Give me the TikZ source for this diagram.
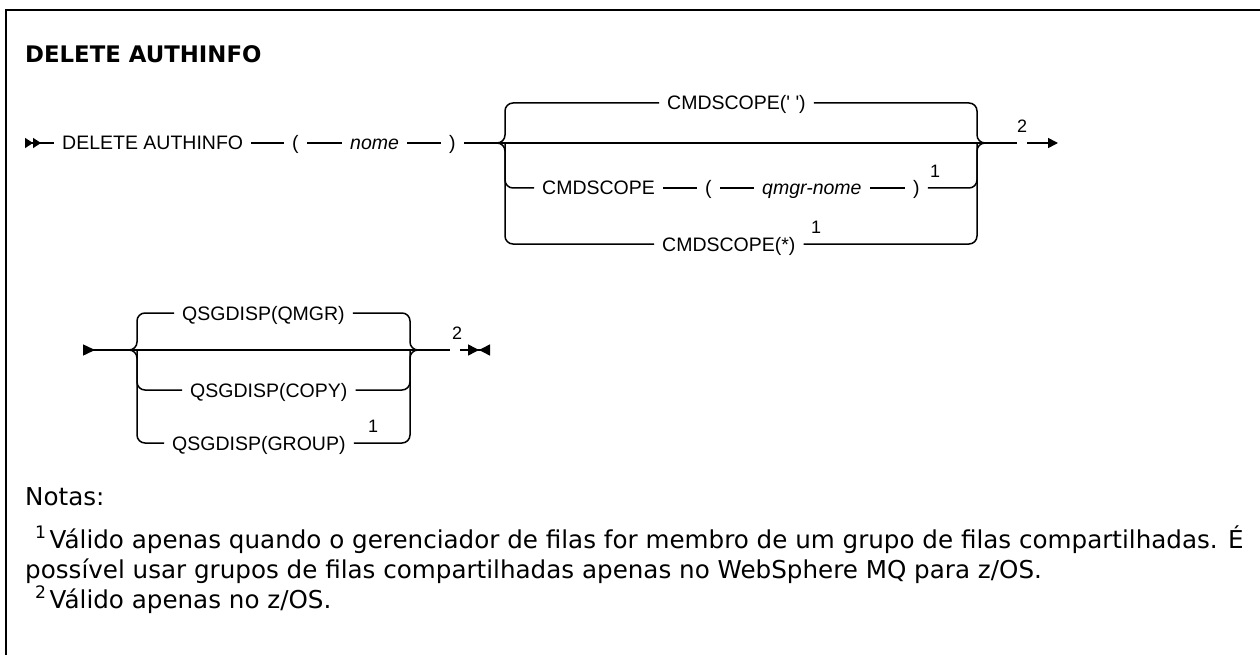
\documentclass[tikz,border=0pt]{standalone}
\usepackage{fontspec}
\setmainfont{Liberation Sans}
\newfontfamily\notefont{DejaVu Sans}
\usetikzlibrary{arrows.meta}
\newcommand{\syn}{\fontsize{19.5}{22}\selectfont}
\newcommand{\nt}{\notefont\fontsize{24.6}{30}\selectfont}
\tikzset{
  rail/.style ={draw=black, line width=1.5pt},
  brc/.style  ={rail, rounded corners=8pt},
  kw/.style   ={font=\syn, anchor=west, inner xsep=8pt, inner ysep=0pt, text height=14pt, text depth=0pt},
  var/.style  ={kw, font=\syn\itshape},
  fn/.style   ={font=\fontsize{18}{19}\selectfont, anchor=south west, inner sep=0pt},
  ttl/.style  ={font=\notefont\bfseries\fontsize{22.8}{26}\selectfont, anchor=base west, inner sep=0pt},
  note/.style ={font=\nt, anchor=base west, inner sep=0pt},
  frm/.style  ={draw=black, line width=2pt},
}

\begin{document}
\begin{tikzpicture}[x=1pt,y=-1pt]
    \useasboundingbox (0,0) rectangle (1260,655);
    \draw[frm] (6,656) -- (6,10) -- (1261,10);
    \node[ttl] (title) at (25,63) {DELETE AUTHINFO};

    % first line
    \coordinate (s1) at (25,143);
    \node[kw]  (del)  at (54,143)  {DELETE AUTHINFO};
    \node[kw]  (lp1)  at (284,143) {(};
    \node[var] (nome) at (342,143) {nome};
    \node[kw]  (rp1)  at (441,143) {)};
    \coordinate (bl1) at (505,143);
    \coordinate (br1) at (977,143);
    \node[kw]  (cs1)  at (659,103) {CMDSCOPE(\textquotesingle{} \textquotesingle)};
    \node[kw]  (cs2)  at (534,188) {CMDSCOPE};
    \node[kw]  (lp2)  at (697,188) {(};
    \node[var] (qm)   at (754,188) {qmgr-nome};
    \node[kw]  (rp2)  at (905,188) {)};
    \node[fn]  (f1a)  at (930,178) {1};
    \node[kw]  (cs3)  at (654,244) {CMDSCOPE(*)};
    \node[fn]  (f1b)  at (811,234) {1};
    \coordinate (e1) at (1017,143);
    \node[fn]  (f2a)  at (1017,133) {2};
    \coordinate (a1) at (1027,143);
    \coordinate (t1) at (1058,143);

    \draw[rail,{Triangle[reversed,length=8pt,width=10pt]Triangle[reversed,length=8pt,width=10pt]}-] (s1) -- (del);
    \draw[rail] (del) -- (lp1);
    \draw[rail] (lp1) -- (nome);
    \draw[rail] (nome) -- (rp1);
    \draw[rail] (rp1) -- (e1);
    \draw[rail,-{Triangle[length=10pt,width=10pt]}] (a1) -- (t1);
    \draw[brc] ([xshift=-8pt]bl1) -- (bl1) |- (cs1.west);
    \draw[brc] ([xshift=-8pt]bl1) -- (bl1) |- (cs3.west);
    \draw[brc] (bl1) |- (cs2.west);
    \draw[rail] (cs2) -- (lp2);
    \draw[rail] (lp2) -- (qm);
    \draw[rail] (qm) -- (rp2);
    \draw[brc] (cs1.east) -| (br1) -- ([xshift=8pt]br1);
    \draw[brc] (cs3.east) -| (br1) -- ([xshift=8pt]br1);
    \draw[brc] (rp2.east) -| (br1);

    % second line
    \coordinate (s2) at (83,350);
    \coordinate (bl2) at (137,350);
    \coordinate (br2) at (410,350);
    \node[kw] (qs1) at (174,313) {QSGDISP(QMGR)};
    \node[kw] (qs2) at (182,390) {QSGDISP(COPY)};
    \node[kw] (qs3) at (164,443) {QSGDISP(GROUP)};
    \node[fn] (f1c) at (368,433) {1};
    \coordinate (e2) at (450,350);
    \node[fn] (f2b) at (452,340) {2};
    \coordinate (a2) at (460,350);
    \coordinate (t2) at (490,350);

    \draw[rail,{Triangle[reversed,length=12pt,width=11pt]}-] (s2) -- (e2);
    \draw[brc] ([xshift=-8pt]bl2) -- (bl2) |- (qs1.west);
    \draw[brc] ([xshift=-8pt]bl2) -- (bl2) |- (qs3.west);
    \draw[brc] (bl2) |- (qs2.west);
    \draw[brc] (qs1.east) -| (br2) -- ([xshift=8pt]br2);
    \draw[brc] (qs3.east) -| (br2) -- ([xshift=8pt]br2);
    \draw[brc] (qs2.east) -| (br2);
    \draw[rail,-{Triangle[length=11pt,width=11pt,sep=0pt]Triangle[length=11pt,width=11pt,reversed]}] (a2) -- (t2);

    % notes
    \node[note] (nts) at (25,505) {Notas:};
    \node[note] (n1)  at (35,548) {\textsuperscript{1}\hspace{3pt}Válido apenas quando o gerenciador de filas for membro de um grupo de filas compartilhadas. É};
    \node[note] (n1b) at (25,578) {possível usar grupos de filas compartilhadas apenas no WebSphere MQ para z/OS.};
    \node[note] (n2)  at (35,608) {\textsuperscript{2}\hspace{3pt}Válido apenas no z/OS.};
\end{tikzpicture}
\end{document}
